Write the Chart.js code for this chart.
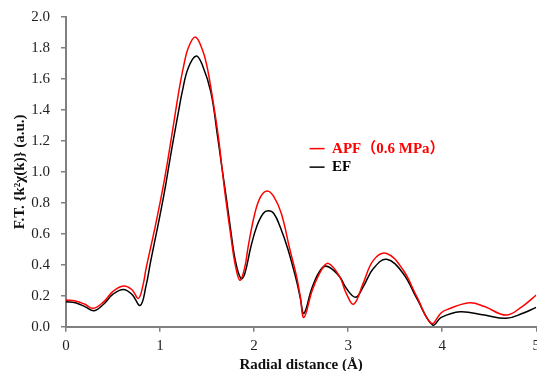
<!DOCTYPE html>
<html>
<head>
<meta charset="utf-8">
<script src="https://cdn.jsdelivr.net/npm/chart.js@4.4.1/dist/chart.umd.min.js"></script>
<style>
  html, body { margin: 0; padding: 0; background: #fff; overflow: hidden; }
  #wrap { width: 537px; height: 371px; overflow: hidden; position: relative; }
  canvas { position: absolute; left: 0; top: -3px; }
</style>
</head>
<body>
<div id="wrap"><canvas id="c" width="545" height="377"></canvas></div>
<script>
// ---- Data ----
const apfLabel = "APF\uFF080.6 MPa\uFF09";
const efLabel = "EF";

const apfR  = [0, 0.1, 0.2, 0.29, 0.4, 0.5, 0.61, 0.7, 0.77, 0.82, 0.85, 0.9, 0.95, 1.0, 1.05, 1.1, 1.15, 1.2, 1.25, 1.3, 1.375, 1.45, 1.5, 1.548, 1.618, 1.66, 1.70, 1.75, 1.80, 1.849, 1.9, 1.937, 2.008, 2.07, 2.14, 2.21, 2.29, 2.38, 2.45, 2.49, 2.53, 2.62, 2.72, 2.79, 2.91, 2.98, 3.06, 3.16, 3.27, 3.41, 3.585, 3.73, 3.886, 3.99, 4.05, 4.29, 4.45, 4.68, 4.85, 5.0];
const apfFT = [0.172, 0.166, 0.145, 0.119, 0.16, 0.228, 0.263, 0.24, 0.183, 0.27, 0.37, 0.51, 0.65, 0.80, 0.96, 1.14, 1.33, 1.52, 1.68, 1.80, 1.871, 1.79, 1.68, 1.516, 1.237, 1.02, 0.82, 0.60, 0.40, 0.30, 0.38, 0.516, 0.731, 0.84, 0.877, 0.84, 0.731, 0.50, 0.33, 0.20, 0.06, 0.237, 0.37, 0.409, 0.323, 0.215, 0.146, 0.28, 0.43, 0.473, 0.366, 0.194, 0.022, 0.09, 0.11, 0.155, 0.13, 0.075, 0.13, 0.205];

const efR  = [0, 0.1, 0.2, 0.3, 0.4, 0.5, 0.61, 0.7, 0.79, 0.85, 0.9, 0.95, 1.0, 1.05, 1.1, 1.14, 1.2, 1.236, 1.3, 1.385, 1.45, 1.54, 1.61, 1.66, 1.708, 1.75, 1.80, 1.86, 1.9, 1.966, 2.03, 2.097, 2.15, 2.21, 2.28, 2.36, 2.45, 2.49, 2.53, 2.62, 2.72, 2.79, 2.91, 2.98, 3.08, 3.16, 3.27, 3.41, 3.585, 3.73, 3.9, 3.99, 4.19, 4.45, 4.68, 4.85, 5.0];
const efFT = [0.161, 0.155, 0.13, 0.103, 0.145, 0.21, 0.241, 0.21, 0.138, 0.26, 0.42, 0.57, 0.72, 0.88, 1.06, 1.20, 1.40, 1.516, 1.67, 1.748, 1.69, 1.516, 1.237, 1.02, 0.817, 0.63, 0.43, 0.31, 0.34, 0.516, 0.65, 0.731, 0.748, 0.731, 0.64, 0.50, 0.30, 0.19, 0.086, 0.258, 0.377, 0.387, 0.323, 0.248, 0.19, 0.258, 0.377, 0.435, 0.344, 0.183, 0.01, 0.06, 0.097, 0.075, 0.054, 0.085, 0.125];

const xTicks = [0, 1, 2, 3, 4, 5];
const yTicks = [0.0, 0.2, 0.4, 0.6, 0.8, 1.0, 1.2, 1.4, 1.6, 1.8, 2.0];

const xTitle = "Radial distance (\u00C5)";
const yTitle = "F.T. {k\u00B2\u03C7(k)} (a.u.)";

const toPts = (xs, ys) => xs.map((x, i) => ({ x: x, y: ys[i] }));

const SERIF = '"Liberation Serif", "Times New Roman", "Noto Sans CJK SC", serif';

// custom in-plot legend (positioned in data space)
const innerLegend = {
  id: 'innerLegend',
  afterDraw(chart) {
    const ctx = chart.ctx;
    const xs = chart.scales.x, ys = chart.scales.y;
    const x0 = xs.getPixelForValue(2.59);
    const y0 = ys.getPixelForValue(1.15);
    const gap = 18.5;
    chart.data.datasets.forEach((ds, i) => {
      const y = y0 + i * gap;
      ctx.save();
      ctx.strokeStyle = ds.borderColor;
      ctx.lineWidth = 1.5;
      ctx.beginPath();
      ctx.moveTo(x0, y);
      ctx.lineTo(x0 + 15, y);
      ctx.stroke();
      ctx.fillStyle = ds.borderColor;
      ctx.font = 'bold 15px ' + SERIF;
      ctx.textBaseline = 'middle';
      ctx.textAlign = 'left';
      ctx.fillText(ds.label, x0 + 22.5, y + 0.5);
      ctx.restore();
    });
  }
};

new Chart(document.getElementById('c'), {
  type: 'line',
  data: {
    datasets: [
      { label: apfLabel, data: toPts(apfR, apfFT), borderColor: '#ff0000', borderWidth: 1.5,
        pointRadius: 0, tension: 0.4, fill: false },
      { label: efLabel, data: toPts(efR, efFT), borderColor: '#000000', borderWidth: 1.5,
        pointRadius: 0, tension: 0.4, fill: false }
    ]
  },
  options: {
    responsive: false,
    animation: false,
    layout: { padding: { left: 11.5, top: 4.7, right: 0, bottom: 0 } },
    plugins: { legend: { display: false }, tooltip: { enabled: false } },
    scales: {
      x: {
        type: 'linear', min: 0, max: 5,
        afterBuildTicks: (s) => { s.ticks = xTicks.map(v => ({ value: v })); },
        ticks: { color: '#222', font: { family: SERIF, size: 15 }, padding: 5,
                 callback: (v) => String(v), maxRotation: 0 },
        grid: { drawOnChartArea: false, drawTicks: true, tickLength: 5, color: '#808080', lineWidth: 1.5 },
        border: { color: '#808080', width: 2 },
        title: { display: true, text: xTitle, color: '#111',
                 font: { family: SERIF, size: 15, weight: 'bold' }, padding: { top: -3.7, bottom: 0 } }
      },
      y: {
        type: 'linear', min: 0, max: 2.0,
        afterBuildTicks: (s) => { s.ticks = yTicks.map(v => ({ value: v })); },
        ticks: { color: '#222', font: { family: SERIF, size: 15 }, padding: 11,
                 callback: (v) => Number(v).toFixed(1) },
        grid: { drawOnChartArea: false, drawTicks: true, tickLength: 5, color: '#808080', lineWidth: 1.5 },
        border: { color: '#808080', width: 2 },
        title: { display: true, text: yTitle, color: '#111',
                 font: { family: SERIF, size: 15, weight: 'bold' }, padding: { top: 0, bottom: -9.3 } }
      }
    }
  },
  plugins: [innerLegend]
});
</script>
</body>
</html>
